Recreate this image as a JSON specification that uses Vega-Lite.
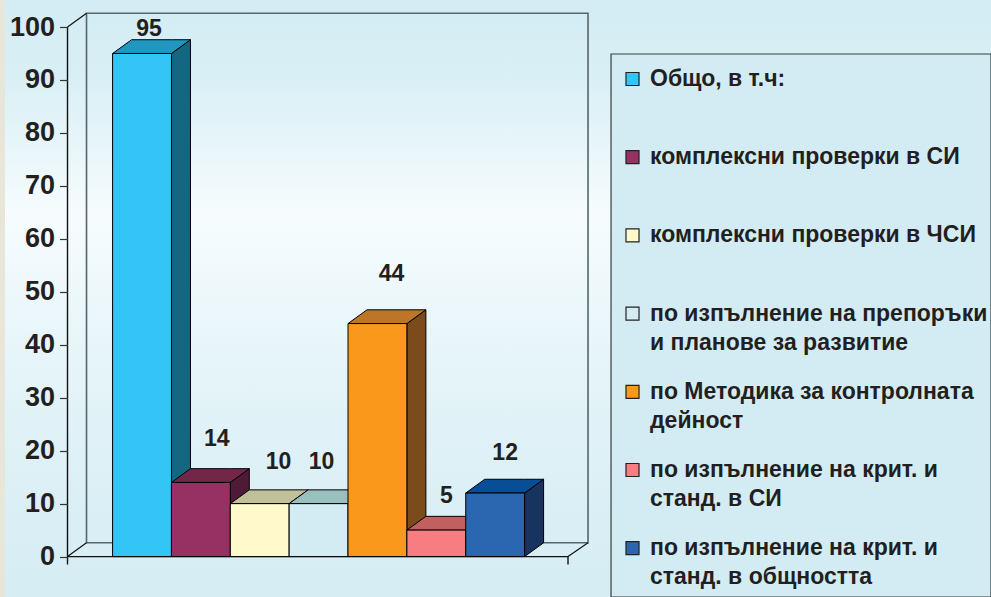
{"$schema":"https://vega.github.io/schema/vega-lite/v6.json","width":991,"height":597,"padding":0,"autosize":"none","background":"#d5edf4","config":{"view":{"stroke":null}},
"datasets":{"bars":[{"n":0,"name":"Общо, в т.ч:","value":95},{"n":1,"name":"комплексни проверки в СИ","value":14},{"n":2,"name":"комплексни проверки в ЧСИ","value":10},{"n":3,"name":"по изпълнение на препоръки\nи планове за развитие","value":10},{"n":4,"name":"по Методика за контролната\nдейност","value":44},{"n":5,"name":"по изпълнение на крит. и\nстанд. в СИ","value":5},{"n":6,"name":"по изпълнение на крит. и\nстанд. в общността","value":12}]},
"data":{"name":"bars"},
"resolve":{"scale":{"fill":"independent"}},
"layer":[
{"data":{"values":[{}]},"mark":{"type":"rect","fill":{"gradient":"linear","x1":0,"y1":0,"x2":0,"y2":1,"stops":[{"offset":0,"color":"#d3ecf3"},{"offset":0.12,"color":"#d8eff5"},{"offset":0.36,"color":"#f6fcfe"},{"offset":0.55,"color":"#e9f6fa"},{"offset":0.8,"color":"#dcf0f6"},{"offset":1,"color":"#d6edf4"}]}},"encoding":{"x":{"datum":-1.913,"type":"quantitative","scale":{"domain":[-1.913,14.925],"nice":false,"zero":false},"axis":null},"x2":{"datum":14.925},"y":{"datum":-7.63,"type":"quantitative","scale":{"domain":[-7.63,105.1],"nice":false,"zero":false},"axis":{"values":[0,10,20,30,40,50,60,70,80,90,100],"offset":-67.5,"domain":false,"grid":false,"title":null,"tickSize":8,"tickColor":"#333333","tickWidth":1.2,"labelFont":"Liberation Sans","labelFontWeight":"bold","labelFontSize":27,"labelColor":"#231f20","labelPadding":5,"zindex":1}},"y2":{"datum":105.1}}},
{"data":{"values":[{}]},"mark":{"type":"rect","fill":"#e8e6d8"},"encoding":{"x":{"datum":-1.913,"type":"quantitative","axis":null},"x2":{"datum":-1.828},"y":{"datum":-7.63,"type":"quantitative"},"y2":{"datum":105.1}}},
{"data":{"values":[{}]},"mark":{"type":"rect","fill":"#d3ecf3","stroke":"#33403f","strokeWidth":1.2},"encoding":{"x":{"datum":8.469,"type":"quantitative","axis":null},"x2":{"datum":14.925},"y":{"datum":-7.63,"type":"quantitative"},"y2":{"datum":94.9}}},
{"data":{"values":[{}]},"mark":{"type":"rect","fill":null,"stroke":"#55666a","strokeWidth":1.6},"encoding":{"x":{"datum":-0.443,"type":"quantitative","axis":null},"x2":{"datum":8.078},"y":{"datum":2.6,"type":"quantitative"},"y2":{"datum":102.6}}},
{"data":{"values":[{}]},"mark":{"type":"rule","color":"#111111","strokeWidth":1.2},"encoding":{"x":{"datum":-0.766,"type":"quantitative","axis":null},"x2":{"datum":-0.443},"y":{"datum":0,"type":"quantitative"},"y2":{"datum":2.6}}},
{"data":{"values":[{}]},"mark":{"type":"rule","color":"#111111","strokeWidth":1.2},"encoding":{"x":{"datum":-0.766,"type":"quantitative","axis":null},"x2":{"datum":-0.443},"y":{"datum":100,"type":"quantitative"},"y2":{"datum":102.6}}},
{"data":{"values":[{}]},"mark":{"type":"rule","color":"#111111","strokeWidth":1.2},"encoding":{"x":{"datum":7.738,"type":"quantitative","axis":null},"x2":{"datum":8.078},"y":{"datum":0,"type":"quantitative"},"y2":{"datum":2.6}}},
{"data":{"values":[{}]},"mark":{"type":"rule","color":"#111111","strokeWidth":1.4},"encoding":{"x":{"datum":-0.766,"type":"quantitative","axis":null},"y":{"datum":-1.5,"type":"quantitative"},"y2":{"datum":100}}},
{"data":{"values":[{}]},"mark":{"type":"rule","color":"#111111","strokeWidth":1.4},"encoding":{"x":{"datum":7.738,"type":"quantitative","axis":null},"y":{"datum":-1.5,"type":"quantitative"},"y2":{"datum":0}}},
{"data":{"values":[{}]},"mark":{"type":"rule","color":"#111111","strokeWidth":1.4},"encoding":{"x":{"datum":-0.766,"type":"quantitative","axis":null},"x2":{"datum":7.738},"y":{"datum":0,"type":"quantitative"}}},
{"transform":[{"calculate":"[0,1]","as":"k"},{"flatten":["k"]},{"calculate":"datum.n+1+datum.k*0.323","as":"px"},{"calculate":"datum.k*2.6","as":"lo"},{"calculate":"datum.value+datum.k*2.6","as":"hi"}],
"mark":{"type":"area","orient":"vertical","stroke":"#000000","strokeWidth":1},"encoding":{"x":{"field":"px","type":"quantitative","axis":null},"y":{"field":"hi","type":"quantitative","stack":null},"y2":{"field":"lo"},"detail":{"field":"name"},"fill":{"field":"name","type":"nominal","legend":null,"scale":{"domain":["Общо, в т.ч:","комплексни проверки в СИ","комплексни проверки в ЧСИ","по изпълнение на препоръки\nи планове за развитие","по Методика за контролната\nдейност","по изпълнение на крит. и\nстанд. в СИ","по изпълнение на крит. и\nстанд. в общността"],"range":["#156680","#4f1a36","#7f7d66","#6d8890","#7c4b1c","#7d4043","#183360"]}}}},
{"transform":[{"calculate":"[0,1,2,3]","as":"k"},{"flatten":["k"]},{"calculate":"datum.n+[0,0.323,1,1.323][datum.k]","as":"px"},{"calculate":"datum.value+[0,0,0,2.6][datum.k]","as":"lo"},{"calculate":"datum.value+[0,2.6,2.6,2.6][datum.k]","as":"hi"}],
"mark":{"type":"area","orient":"vertical","stroke":"#000000","strokeWidth":1},"encoding":{"x":{"field":"px","type":"quantitative","axis":null},"y":{"field":"hi","type":"quantitative","stack":null},"y2":{"field":"lo"},"detail":{"field":"name"},"fill":{"field":"name","type":"nominal","legend":null,"scale":{"domain":["Общо, в т.ч:","комплексни проверки в СИ","комплексни проверки в ЧСИ","по изпълнение на препоръки\nи планове за развитие","по Методика за контролната\nдейност","по изпълнение на крит. и\nстанд. в СИ","по изпълнение на крит. и\nстанд. в общността"],"range":["#2097c0","#742649","#c0c09a","#9abfbf","#bd7628","#c16060","#0a4d97"]}}}},
{"transform":[{"calculate":"datum.n+1","as":"n1"}],"mark":{"type":"rect","stroke":"#000000","strokeWidth":1},"encoding":{"x":{"field":"n","type":"quantitative","axis":null},"x2":{"field":"n1"},"y":{"field":"value","type":"quantitative"},"y2":{"datum":0},"fill":{"field":"name","type":"nominal","scale":{"domain":["Общо, в т.ч:","комплексни проверки в СИ","комплексни проверки в ЧСИ","по изпълнение на препоръки\nи планове за развитие","по Методика за контролната\nдейност","по изпълнение на крит. и\nстанд. в СИ","по изпълнение на крит. и\nстанд. в общността"],"range":["#33c5f5","#983163","#fff9cc","#d3ecf3","#fa981c","#f87d82","#2a67b0"]},"legend":{"orient":"none","legendX":621,"legendY":69,"title":null,"symbolType":"square","symbolSize":170,"symbolStrokeColor":"#222222","symbolStrokeWidth":1.2,"symbolOpacity":1,"clipHeight":20,"rowPadding":26.2,"labelFont":"Liberation Sans","labelFontWeight":"bold","labelFontSize":23,"labelColor":"#231f20","labelLimit":400,"labelOffset":6,"labelBaseline":"top","labelExpr":"indexof(datum.label,'\\n')<0 ? [datum.label,' '] : split(datum.label,'\\n')","encode":{"labels":{"update":{"lineHeight":{"value":29},"dy":{"value":-11}}}}}}}},
{"transform":[{"calculate":"datum.n+0.5+[0.12,0.27,0.32,0.05,0.24,0.17,0.17][datum.n]","as":"lx"},{"calculate":"[99.6,22.2,17.8,17.8,53.4,11.5,19.6][datum.n]","as":"ly"}],"mark":{"type":"text","font":"Liberation Sans","fontWeight":"bold","fontSize":23,"color":"#231f20"},"encoding":{"x":{"field":"lx","type":"quantitative","axis":null},"y":{"field":"ly","type":"quantitative"},"text":{"field":"value","type":"quantitative"}}}
]}
